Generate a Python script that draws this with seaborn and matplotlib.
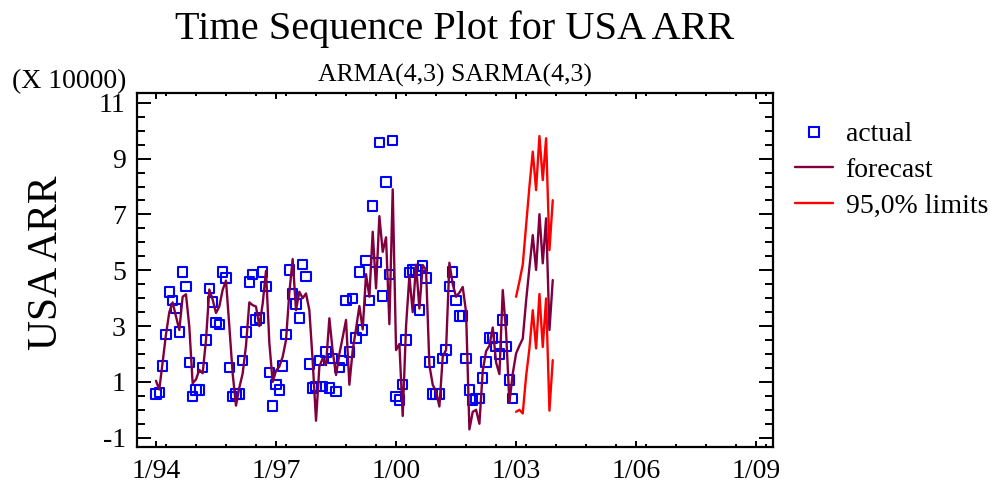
import numpy as np
import pandas as pd
import matplotlib
matplotlib.use("Agg")
import matplotlib.pyplot as plt
from matplotlib.lines import Line2D
from matplotlib.ticker import MultipleLocator, FixedLocator
import seaborn as sns

# ---------------- data (values in units of 10000) ----------------
actual = [0.57, 0.63, 1.57, 2.71, 4.22, 3.93, 3.63, 2.79, 4.94, 4.43, 1.70, 0.49,
          0.71, 0.71, 1.51, 2.50, 4.36, 3.86, 3.14, 3.07, 4.94, 4.72, 1.51, 0.49,
          0.57, 0.57, 1.78, 2.79, 4.58, 4.86, 3.22, 3.29, 4.94, 4.43, 1.35, 0.14,
          0.92, 0.71, 1.57, 2.71, 5.01, 4.15, 3.79, 3.29, 5.22, 4.79, 1.64, 0.78,
          0.85, 1.78, 0.85, 2.07, 0.78, 1.85, 0.65, 1.51, 1.78, 3.93, 2.07, 4.00,
          2.57, 4.94, 2.86, 5.36, 3.93, 7.30, 5.29, 9.59, 4.08, 8.16, 4.86, 9.66,
          0.49, 0.35, 0.92, 2.50, 4.91, 5.01, 5.01, 3.58, 5.15, 4.72, 1.71, 0.57,
          0.57, 0.57, 1.85, 2.14, 4.43, 4.94, 3.93, 3.36, 3.36, 1.85, 0.71, 0.35,
          0.42, 0.42, 1.14, 1.71, 2.57, 2.57, 2.28, 2.00, 3.22, 2.28, 1.07, 0.42]

forecast = [1.04, 0.73, 1.70, 2.70, 3.50, 3.85, 3.35, 2.86, 4.05, 4.14, 2.98, 0.95,
            1.09, 1.43, 1.31, 2.50, 4.31, 3.95, 3.47, 3.70, 4.30, 4.63, 3.00, 1.30,
            0.15, 0.80, 1.30, 2.30, 3.85, 3.75, 3.70, 3.00, 3.80, 4.98, 2.40, 1.00,
            1.40, 1.55, 1.90, 2.50, 4.20, 5.40, 3.57, 4.23, 4.00, 4.17, 3.57, 1.75,
            -0.39, 1.55, 1.84, 1.60, 3.28, 2.10, 1.25, 2.00, 2.60, 3.22, 0.90, 2.14,
            2.90, 3.72, 2.88, 4.86, 4.05, 6.38, 4.35, 6.94, 5.66, 6.18, 3.07, 7.90,
            2.14, 2.36, -0.22, 3.00, 4.80, 3.50, 5.20, 3.63, 5.19, 5.01, 1.60, 0.90,
            0.65, 0.12, 1.90, 2.15, 5.27, 4.50, 4.05, 4.20, 4.40, 3.50, -0.70, -0.07,
            0.00, -0.50, 1.40, 2.10, 2.30, 2.95, 1.70, 1.28, 4.29, 2.80, 0.25, 1.30,
            2.02, 2.30, 2.55, 3.90, 5.10, 6.26, 5.01, 7.01, 5.25, 6.86, 2.86, 4.65]

upper = [4.05, 4.60, 5.20, 6.60, 8.00, 9.25, 7.87, 9.81, 8.23, 9.73, 5.72, 7.51]
lower = [-0.07, 0.00, -0.13, 1.20, 2.20, 3.57, 2.20, 4.15, 2.25, 3.99, -0.03, 1.78]

limits_start = "2003-01"
series_start = "1994-01"

x_tick_years = [1994, 1997, 2000, 2003, 2006, 2009]
x_tick_labels = ["1/94", "1/97", "1/00", "1/03", "1/06", "1/09"]
y_ticks = [-1, 1, 3, 5, 7, 9, 11]
y_tick_labels = ["-1", "1", "3", "5", "7", "9", "11"]


def decimal_years(start, n):
    d = pd.date_range(start, periods=n, freq="MS")
    return d.year + (d.month - 1) / 12.0


df_act = pd.DataFrame({"t": decimal_years(series_start, len(actual)), "v": actual})
df_fc = pd.DataFrame({"t": decimal_years(series_start, len(forecast)), "v": forecast})
df_up = pd.DataFrame({"t": decimal_years(limits_start, len(upper)), "v": upper})
df_lo = pd.DataFrame({"t": decimal_years(limits_start, len(lower)), "v": lower})

# ---------------- style ----------------
sns.set_theme(style="white")
plt.rcParams["font.family"] = ["Liberation Serif", "DejaVu Serif"]
plt.rcParams["axes.unicode_minus"] = False
plt.rcParams["text.color"] = "black"
plt.rcParams["axes.labelcolor"] = "black"
plt.rcParams["xtick.color"] = "black"
plt.rcParams["ytick.color"] = "black"

BLUE = "#0000FF"
MAROON = "#80003F"
RED = "#FF0000"

fig = plt.figure(figsize=(9.91, 4.87), dpi=100)
ax = fig.add_axes([0.1382, 0.0828, 0.642, 0.7256])

sns.scatterplot(data=df_act, x="t", y="v", ax=ax, marker="s", s=44,
                facecolors="none", edgecolor=BLUE, linewidth=1.5, legend=False, zorder=2)
sns.lineplot(data=df_fc, x="t", y="v", ax=ax, color=MAROON, lw=1.7,
             estimator=None, legend=False, zorder=3)
sns.lineplot(data=df_up, x="t", y="v", ax=ax, color=RED, lw=1.7,
             estimator=None, legend=False, zorder=3)
sns.lineplot(data=df_lo, x="t", y="v", ax=ax, color=RED, lw=1.7,
             estimator=None, legend=False, zorder=3)

ax.set_xlim(1993.525, 2009.425)
ax.set_ylim(-1.32, 11.34)
ax.set_xlabel("")
ax.set_ylabel("")

ax.xaxis.set_major_locator(FixedLocator(x_tick_years))
ax.set_xticklabels(x_tick_labels)
ax.xaxis.set_minor_locator(MultipleLocator(0.75))
ax.yaxis.set_major_locator(FixedLocator(y_ticks))
ax.set_yticklabels(y_tick_labels)
ax.yaxis.set_minor_locator(MultipleLocator(0.5))

for sp in ax.spines.values():
    sp.set_visible(True)
    sp.set_color("black")
    sp.set_linewidth(1.6)

ax.tick_params(axis="y", which="major", direction="in", length=10, width=1.4,
               left=True, right=True, labelsize=20, pad=8, colors="black")
ax.tick_params(axis="y", which="minor", direction="in", length=5.5, width=1.4,
               left=True, right=True, colors="black")
ax.tick_params(axis="x", which="major", direction="in", length=4.5, width=1.4,
               bottom=True, top=True, labelsize=20, pad=9, colors="black")
ax.tick_params(axis="x", which="minor", direction="in", length=2, width=1.4,
               bottom=True, top=True, colors="black")

# ---------------- texts ----------------
fig.text(0.459, 1 - 39 / 487, "Time Sequence Plot for USA ARR",
         ha="center", va="baseline", fontsize=29, color="black")
fig.text(0.459, 1 - 82 / 487, "ARMA(4,3) SARMA(4,3)",
         ha="center", va="baseline", fontsize=18.5, color="black")
fig.text(0.0118, 1 - 88 / 487, "(X 10000)", ha="left", va="baseline",
         fontsize=20, color="black")
fig.text(47 / 991, 1 - 263 / 487, "USA ARR", rotation=90,
         ha="center", va="center", fontsize=30, color="black")

handles = [
    Line2D([], [], marker="s", linestyle="none", markersize=6.6,
           markerfacecolor="none", markeredgecolor=BLUE, markeredgewidth=1.5),
    Line2D([], [], color=MAROON, lw=1.7),
    Line2D([], [], color=RED, lw=1.7),
]
leg = fig.legend(handles, ["actual", "forecast", "95,0% limits"], loc="upper left",
                 bbox_to_anchor=(795 / 991, 1 - 122 / 487), frameon=False, fontsize=20,
                 handlelength=1.37, handletextpad=0.45, labelspacing=0.37, borderpad=0,
                 borderaxespad=0)
for txt in leg.get_texts():
    txt.set_color("black")

fig.savefig("out.png", dpi=100)
